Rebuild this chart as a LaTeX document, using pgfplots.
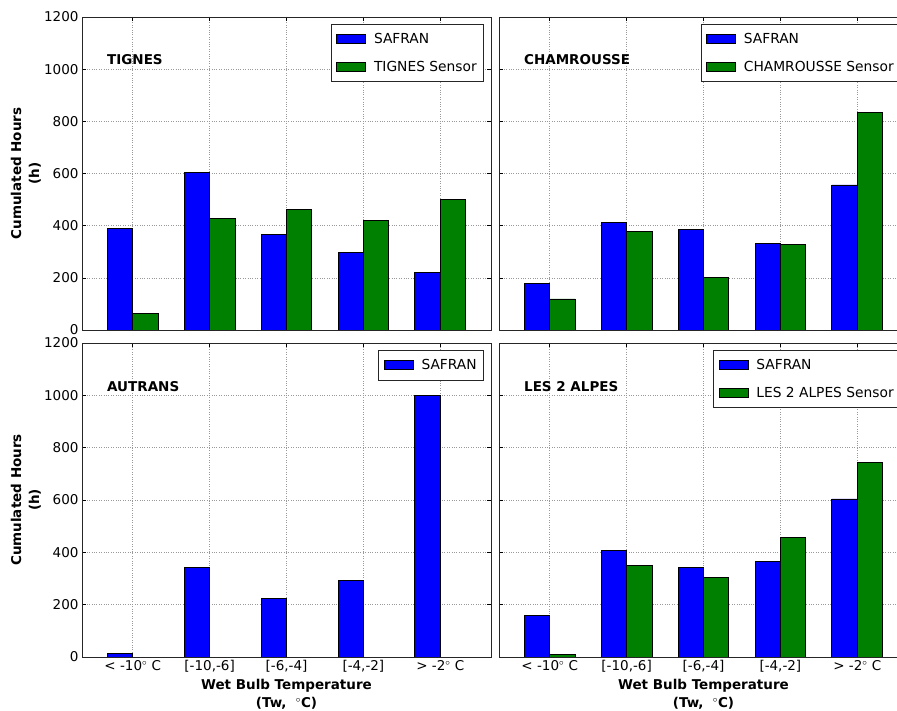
\documentclass[border=0pt]{standalone}
\usepackage{fontspec}
\setmainfont{DejaVu Sans}
\usepackage{pgfplots}
\pgfplotsset{compat=1.18}

\definecolor{mblue}{RGB}{0,0,255}
\definecolor{mgreen}{RGB}{0,128,0}

\tikzset{titlenode/.style={anchor=west, inner sep=0pt, font=\bfseries\fontsize{13.5}{16}\selectfont}}

\pgfplotsset{
  panel/.style={
    scale only axis, width=409pt, height=313pt,
    xmin=-0.66, xmax=4.66, ymin=0, ymax=1200,
    xtick={0,1,2,3,4}, ytick={0,200,400,600,800,1000,1200},
    xtick pos=both, ytick pos=both,
    xticklabel pos=bottom, yticklabel pos=left,
    tick align=inside, major tick length=4pt,
    tick style={black, line width=0.6pt},
    grid=major,
    major grid style={dotted, black!40, line width=0.5pt},
    axis line style={black!85, line width=0.8pt},
    tick label style={font=\fontsize{13.5}{16}\selectfont},
    /pgf/number format/assume math mode=true,
    /pgf/number format/1000 sep={},
    legend style={at={(1,1)}, anchor=north east, xshift=-7pt, yshift=-7pt,
      draw=black!85, line width=0.6pt, font=\fontsize{13.8}{16}\selectfont,
      row sep=12pt, column sep=6pt, inner xsep=5pt, inner ysep=7pt,
      cells={anchor=west}},
    legend cell align=left,
    every axis y label/.style={at={(rel axis cs:-0.092,0.5)}, rotate=90, anchor=south,
      align=center, font=\bfseries\fontsize{13.5}{18}\selectfont},
    every axis x label/.style={at={(rel axis cs:0.5,0)}, anchor=north,
      yshift=-19pt, align=center, font=\bfseries\fontsize{13.5}{18}\selectfont},
  },
  safbar/.style={ybar, bar width=0.33, bar shift=-0.165, fill=mblue, draw=black, line width=0.8pt,
    legend image code/.code={\draw[fill=mblue, draw=black, line width=0.8pt] (0pt,-4pt) rectangle (29pt,5pt);}},
  senbar/.style={ybar, bar width=0.33, bar shift=0.165, fill=mgreen, draw=black, line width=0.8pt,
    legend image code/.code={\draw[fill=mgreen, draw=black, line width=0.8pt] (0pt,-4pt) rectangle (29pt,5pt);}},
}

\begin{document}
\begin{tikzpicture}
% TIGNES
\begin{axis}[panel, at={(82pt,381pt)}, anchor=south west,
  xticklabels={}, ylabel={Cumulated Hours\\(h)}]
\addplot[safbar] coordinates {(0,390) (1,603) (2,367) (3,298) (4,221)};
\addlegendentry{SAFRAN}
\addplot[senbar] coordinates {(0,64) (1,428) (2,461) (3,421) (4,501)};
\addlegendentry{TIGNES Sensor}
\node[titlenode] at (rel axis cs:0.061,0.863) {TIGNES};
\end{axis}
% CHAMROUSSE
\begin{axis}[panel, at={(499pt,381pt)}, anchor=south west,
  xticklabels={}, yticklabels={}]
\addplot[safbar] coordinates {(0,179) (1,414) (2,387) (3,331) (4,556)};
\addlegendentry{SAFRAN}
\addplot[senbar] coordinates {(0,119) (1,377) (2,203) (3,328) (4,833)};
\addlegendentry{CHAMROUSSE Sensor}
\node[titlenode] at (rel axis cs:0.061,0.863) {CHAMROUSSE};
\end{axis}
% AUTRANS
\begin{axis}[panel, height=314pt, at={(82pt,54pt)}, anchor=south west,
  xticklabels={{< -10$^\circ$ C},{[-10,-6]},{[-6,-4]},{[-4,-2]},{> -2$^\circ$ C}},
  ylabel={Cumulated Hours\\(h)}, xlabel={Wet Bulb Temperature\\(Tw, \ $^\circ$C)}]
\addplot[safbar] coordinates {(0,15) (1,342) (2,223) (3,291) (4,998)};
\addlegendentry{SAFRAN}
\node[titlenode] at (rel axis cs:0.061,0.86) {AUTRANS};
\end{axis}
% LES 2 ALPES
\begin{axis}[panel, height=314pt, at={(499pt,54pt)}, anchor=south west,
  yticklabels={},
  xticklabels={{< -10$^\circ$ C},{[-10,-6]},{[-6,-4]},{[-4,-2]},{> -2$^\circ$ C}},
  xlabel={Wet Bulb Temperature\\(Tw, \ $^\circ$C)}]
\addplot[safbar] coordinates {(0,158) (1,407) (2,341) (3,364) (4,604)};
\addlegendentry{SAFRAN}
\addplot[senbar] coordinates {(0,11) (1,350) (2,305) (3,456) (4,745)};
\addlegendentry{LES 2 ALPES Sensor}
\node[titlenode] at (rel axis cs:0.061,0.86) {LES 2 ALPES};
\end{axis}
\pgfresetboundingbox
\path[use as bounding box] (0pt,0pt) rectangle (897pt,711pt);
\end{tikzpicture}
\end{document}
